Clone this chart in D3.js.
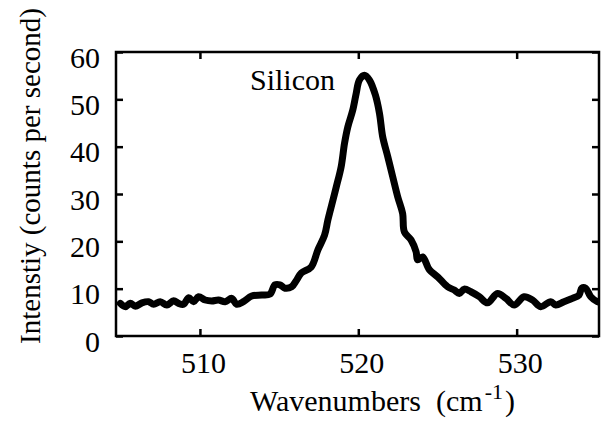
<!DOCTYPE html>
<html>
<head>
<meta charset="utf-8">
<script src="https://cdn.jsdelivr.net/npm/d3@7"></script>
<style>
  body { margin: 0; background: #fff; }
  text { font-family: "Liberation Serif", "Times New Roman", serif; fill: #000; }
</style>
</head>
<body>
<script>
// wavenumber (cm-1) and intensity (counts per second)
const wavenumber = [504.97, 505.29, 505.6, 505.92, 506.34, 506.76, 507.08, 507.49, 507.91, 508.34,
  508.65, 508.97, 509.29, 509.6, 509.91, 510.33, 510.75, 511.17, 511.59, 512.01, 512.32, 512.75,
  513.27, 513.9, 514.42, 514.74, 515.05, 515.37, 515.79, 516.1, 516.4, 517.03, 517.45, 517.87,
  518.08, 518.29, 518.61, 518.92, 519.13, 519.34, 519.65, 519.87, 520.07, 520.39, 520.7, 521.08,
  521.34, 521.54, 521.86, 522.17, 522.49, 522.8, 522.91, 523.33, 523.65, 523.75, 524.06, 524.49,
  525.01, 525.64, 526.06, 526.38, 526.69, 527.11, 527.64, 528.16, 528.79, 529.32, 529.84, 530.47,
  531.0, 531.52, 532.15, 532.47, 532.99, 533.52, 533.94, 534.11, 534.36, 534.68, 535.09, 535.4];
const intensity = [6.9, 6.2, 6.9, 6.3, 7.0, 7.25, 6.7, 7.25, 6.55, 7.45,
  6.9, 6.7, 8.1, 7.25, 8.3, 7.6, 7.4, 7.6, 7.25, 7.95, 6.7, 7.25,
  8.45, 8.65, 8.85, 10.8, 10.8, 10.1, 10.4, 11.8, 13.3, 14.6, 18.2, 21.3,
  24.5, 27.3, 31.5, 35.8, 40.7, 44.2, 47.7, 51.3, 54.1, 55.1, 54.1, 50.9,
  47.0, 42.1, 37.9, 33.7, 29.4, 25.9, 22.0, 20.3, 17.8, 16.1, 16.7, 14.0,
  12.5, 10.4, 9.7, 9.0, 9.9, 9.35, 8.3, 7.0, 9.0, 7.95, 6.55, 8.3,
  7.6, 6.2, 7.25, 6.55, 7.25, 7.95, 8.65, 10.1, 10.1, 8.3, 7.25, 7.0];
const xTicks = [510, 520, 530];
const yTicks = [0, 10, 20, 30, 40, 50, 60];

const width = 602, height = 430;
const plotL = 116, plotR = 599, plotT = 52, plotB = 336;
const fontSize = 30;

const svg = d3.select("body").append("svg")
  .attr("width", width)
  .attr("height", height);

const x = d3.scaleLinear().domain([504.7, 535.2]).range([plotL, plotR]);
const y = d3.scaleLinear().domain([0, 60]).range([plotB, plotT]);

svg.append("clipPath").attr("id", "plot")
  .append("rect")
  .attr("x", plotL).attr("y", plotT)
  .attr("width", plotR - plotL).attr("height", plotB - plotT);

// spectrum
const line = d3.line()
  .x((d, i) => x(wavenumber[i]))
  .y(d => y(d))
  .curve(d3.curveCatmullRom.alpha(0.5));

svg.append("path")
  .datum(intensity)
  .attr("clip-path", "url(#plot)")
  .attr("fill", "none")
  .attr("stroke", "#000")
  .attr("stroke-width", 7)
  .attr("stroke-linejoin", "round")
  .attr("stroke-linecap", "round")
  .attr("d", line);

// axes, ticks pointing inward on all four sides
const styleAxis = g => {
  g.select(".domain").remove();
  g.selectAll(".tick line").attr("stroke", "#000").attr("stroke-width", 2.5);
  g.selectAll("text").style("font-size", fontSize + "px")
    .style("font-family", "'Liberation Serif', 'Times New Roman', serif");
};

svg.append("g")
  .attr("transform", "translate(" + plotL + ",0)")
  .call(d3.axisLeft(y).tickValues(yTicks).tickSize(-7).tickPadding(16))
  .call(styleAxis)
  .call(g => g.selectAll("text").attr("dy", 15));

svg.append("g")
  .attr("transform", "translate(" + plotR + ",0)")
  .call(d3.axisRight(y).tickValues(yTicks).tickSize(-7).tickFormat(""))
  .call(styleAxis);

svg.append("g")
  .attr("transform", "translate(0," + plotB + ")")
  .call(d3.axisBottom(x).tickValues(xTicks).tickSize(-7))
  .call(styleAxis)
  .call(g => g.selectAll("text").attr("y", 37).attr("dy", 0).attr("dx", 3));

svg.append("g")
  .attr("transform", "translate(0," + plotT + ")")
  .call(d3.axisTop(x).tickValues(xTicks).tickSize(-7).tickFormat(""))
  .call(styleAxis);

// frame
svg.append("rect")
  .attr("x", plotL).attr("y", plotT)
  .attr("width", plotR - plotL).attr("height", plotB - plotT)
  .attr("fill", "none")
  .attr("stroke", "#000")
  .attr("stroke-width", 2.5);

// annotation
svg.append("text")
  .attr("x", 250).attr("y", 90)
  .style("font-size", fontSize + "px")
  .text("Silicon");

// axis titles
const xt = svg.append("text")
  .attr("y", 411)
  .style("font-size", fontSize + "px");
xt.append("tspan").attr("x", 250).text("Wavenumbers");
xt.append("tspan").attr("x", 436).text("(cm");
xt.append("tspan").attr("dx", 2).attr("dy", -12).style("font-size", "22px").text("-1");
xt.append("tspan").attr("dx", 2).attr("dy", 12).text(")");

svg.append("text")
  .attr("transform", "translate(40,176) rotate(-90)")
  .attr("text-anchor", "middle")
  .style("font-size", "29px")
  .text("Intenstiy (counts per second)");
</script>
</body>
</html>
